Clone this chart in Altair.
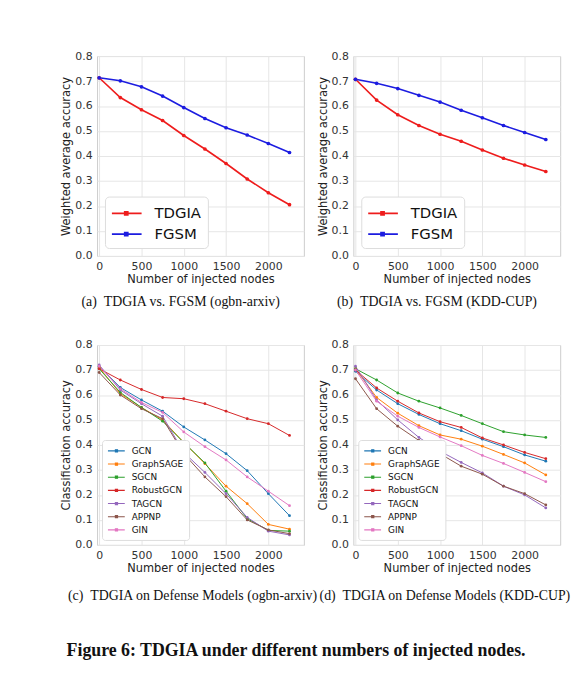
import altair as alt
import pandas as pd

# ---------------- data ----------------
nodes = [0, 250, 500, 750, 1000, 1250, 1500, 1750, 2000, 2250]
x_ticks = [0, 500, 1000, 1500, 2000]
y_ticks = [0.0, 0.1, 0.2, 0.3, 0.4, 0.5, 0.6, 0.7, 0.8]

attack_methods = ["TDGIA", "FGSM"]
attack_colors = ["#ee1c1c", "#1c1ce0"]

# (a) ogbn-arxiv
a_tdgia = [0.713, 0.634, 0.585, 0.542, 0.482, 0.428, 0.370, 0.308, 0.253, 0.205]
a_fgsm = [0.713, 0.701, 0.677, 0.640, 0.594, 0.550, 0.513, 0.484, 0.450, 0.414]
# (b) KDD-CUP
b_tdgia = [0.707, 0.624, 0.565, 0.522, 0.487, 0.459, 0.424, 0.391, 0.364, 0.338]
b_fgsm = [0.707, 0.691, 0.670, 0.643, 0.616, 0.583, 0.553, 0.522, 0.494, 0.466]

models = ["GCN", "GraphSAGE", "SGCN", "RobustGCN", "TAGCN", "APPNP", "GIN"]
model_colors = ["#1f77b4", "#ff7f0e", "#2ca02c", "#d62728", "#9467bd", "#8c564b", "#e377c2"]

# (c) ogbn-arxiv defense models
c_gcn = [0.715, 0.630, 0.580, 0.535, 0.472, 0.420, 0.365, 0.297, 0.205, 0.117]
c_sage = [0.710, 0.605, 0.550, 0.500, 0.410, 0.325, 0.235, 0.165, 0.082, 0.063]
c_sgcn = [0.705, 0.610, 0.550, 0.495, 0.410, 0.328, 0.215, 0.105, 0.058, 0.055]
c_robust = [0.705, 0.660, 0.622, 0.590, 0.585, 0.565, 0.535, 0.505, 0.485, 0.438]
c_tagcn = [0.720, 0.620, 0.565, 0.515, 0.370, 0.290, 0.205, 0.110, 0.055, 0.040]
c_appnp = [0.690, 0.600, 0.545, 0.505, 0.365, 0.272, 0.193, 0.100, 0.060, 0.045]
c_gin = [0.715, 0.625, 0.570, 0.530, 0.452, 0.393, 0.340, 0.272, 0.215, 0.157]

# (d) KDD-CUP defense models
d_gcn = [0.695, 0.620, 0.565, 0.522, 0.485, 0.457, 0.423, 0.393, 0.360, 0.335]
d_sage = [0.705, 0.590, 0.527, 0.477, 0.440, 0.423, 0.395, 0.362, 0.328, 0.280]
d_sgcn = [0.705, 0.660, 0.608, 0.575, 0.548, 0.518, 0.485, 0.453, 0.440, 0.430]
d_robust = [0.700, 0.628, 0.575, 0.528, 0.493, 0.470, 0.428, 0.400, 0.370, 0.345]
d_tagcn = [0.715, 0.580, 0.500, 0.430, 0.375, 0.330, 0.288, 0.235, 0.200, 0.148]
d_appnp = [0.665, 0.545, 0.475, 0.418, 0.365, 0.315, 0.283, 0.235, 0.205, 0.160]
d_gin = [0.700, 0.575, 0.515, 0.470, 0.432, 0.397, 0.358, 0.326, 0.290, 0.253]

captions = [
    "(a)\u2002TDGIA vs. FGSM (ogbn-arxiv)",
    "(b)\u2002TDGIA vs. FGSM (KDD-CUP)",
    "(c)\u2002TDGIA on Defense Models (ogbn-arxiv)",
    "(d)\u2002TDGIA on Defense Models (KDD-CUP)",
]
figure_title = "Figure 6: TDGIA under different numbers of injected nodes."

# ---------------- helpers ----------------
W, H = 209, 202
SERIF = "Liberation Serif"
SANS = "DejaVu Sans"


def make_df(series_names, series_values):
    rows = []
    for name, vals in zip(series_names, series_values):
        for n, v in zip(nodes, vals):
            rows.append({"n": n, "acc": v, "series": name})
    return pd.DataFrame(rows)


def panel(df, names, colors, ytitle, caption, dx, cap_offset, big_legend):
    if big_legend:
        legend = alt.Legend(
            title=None, orient="bottom-left", offset=8,
            labelFontSize=15, labelFont=SANS, labelColor="#111",
            symbolType="M-1,0H2M0.3,-0.15h0.3v0.3h-0.3z",
            symbolSize=400, symbolStrokeWidth=1.8,
            labelOffset=22, rowPadding=2, padding=6,
            fillColor="white", strokeColor="#dddddd", cornerRadius=4,
        )
        lw, psize = 1.6, 14
    else:
        legend = alt.Legend(
            title=None, orient="bottom-left", offset=5,
            labelFontSize=9, labelFont=SANS, labelColor="#111",
            symbolType="M-1,0H2.4M0.5,-0.22h0.44v0.44h-0.44z",
            symbolSize=100, symbolStrokeWidth=1.1,
            labelOffset=13, rowPadding=2.3, padding=5,
            fillColor="white", strokeColor="#dddddd", cornerRadius=3,
        )
        lw, psize = 1.0, 8
    return alt.Chart(df).mark_line(
        strokeWidth=lw, point=alt.OverlayMarkDef(size=psize, filled=True)
    ).encode(
        x=alt.X("n:Q", scale=alt.Scale(domain=[-25, 2420], nice=False, zero=False),
                axis=alt.Axis(values=x_ticks, format="d", title="Number of injected nodes")),
        y=alt.Y("acc:Q", scale=alt.Scale(domain=[0, 0.8], nice=False),
                axis=alt.Axis(values=y_ticks, format=".1f", title=ytitle)),
        color=alt.Color("series:N", scale=alt.Scale(domain=names, range=colors), legend=legend),
    ).properties(
        width=W, height=H,
        title=alt.TitleParams(caption, orient="bottom", font=SERIF, fontSize=14,
                              fontWeight="normal", color="#111", offset=cap_offset, dx=dx,
                              anchor="middle"),
    )


pa = panel(make_df(attack_methods, [a_tdgia, a_fgsm]), attack_methods, attack_colors,
           "Weighted average accuracy", captions[0], -20, 10, True)
pb = panel(make_df(attack_methods, [b_tdgia, b_fgsm]), attack_methods, attack_colors,
           "Weighted average accuracy", captions[1], -20, 10, True)
pc = panel(make_df(models, [c_gcn, c_sage, c_sgcn, c_robust, c_tagcn, c_appnp, c_gin]),
           models, model_colors, "Classification accuracy", captions[2], -8, 15, False)
pd_ = panel(make_df(models, [d_gcn, d_sage, d_sgcn, d_robust, d_tagcn, d_appnp, d_gin]),
            models, model_colors, "Classification accuracy", captions[3], -12, 15, False)

chart = alt.concat(
    pa, pb, pc, pd_, columns=2, spacing={"row": 90, "column": 50}, bounds="flush"
).resolve_scale(
    color="independent"
).properties(
    title=alt.TitleParams(figure_title, orient="bottom", font=SERIF, fontSize=18,
                          fontWeight="bold", color="#111", offset=39, dx=-20,
                          anchor="middle"),
    padding={"left": 53, "top": 38, "right": 5, "bottom": 20},
).configure_view(
    stroke="#cccccc", strokeWidth=1
).configure_axis(
    grid=True, gridColor="#e6e6e6", gridWidth=1, domain=False, ticks=False,
    labelFont=SANS, labelFontSize=11, labelColor="#333",
    titleFont=SANS, titleFontSize=11.5, titleFontWeight="normal", titleColor="#222",
).configure_axisX(
    labelPadding=5, titlePadding=2
).configure_axisY(
    labelPadding=5, titlePadding=3
)

chart.save("out.html", embed_options={"renderer": "svg", "actions": False})
